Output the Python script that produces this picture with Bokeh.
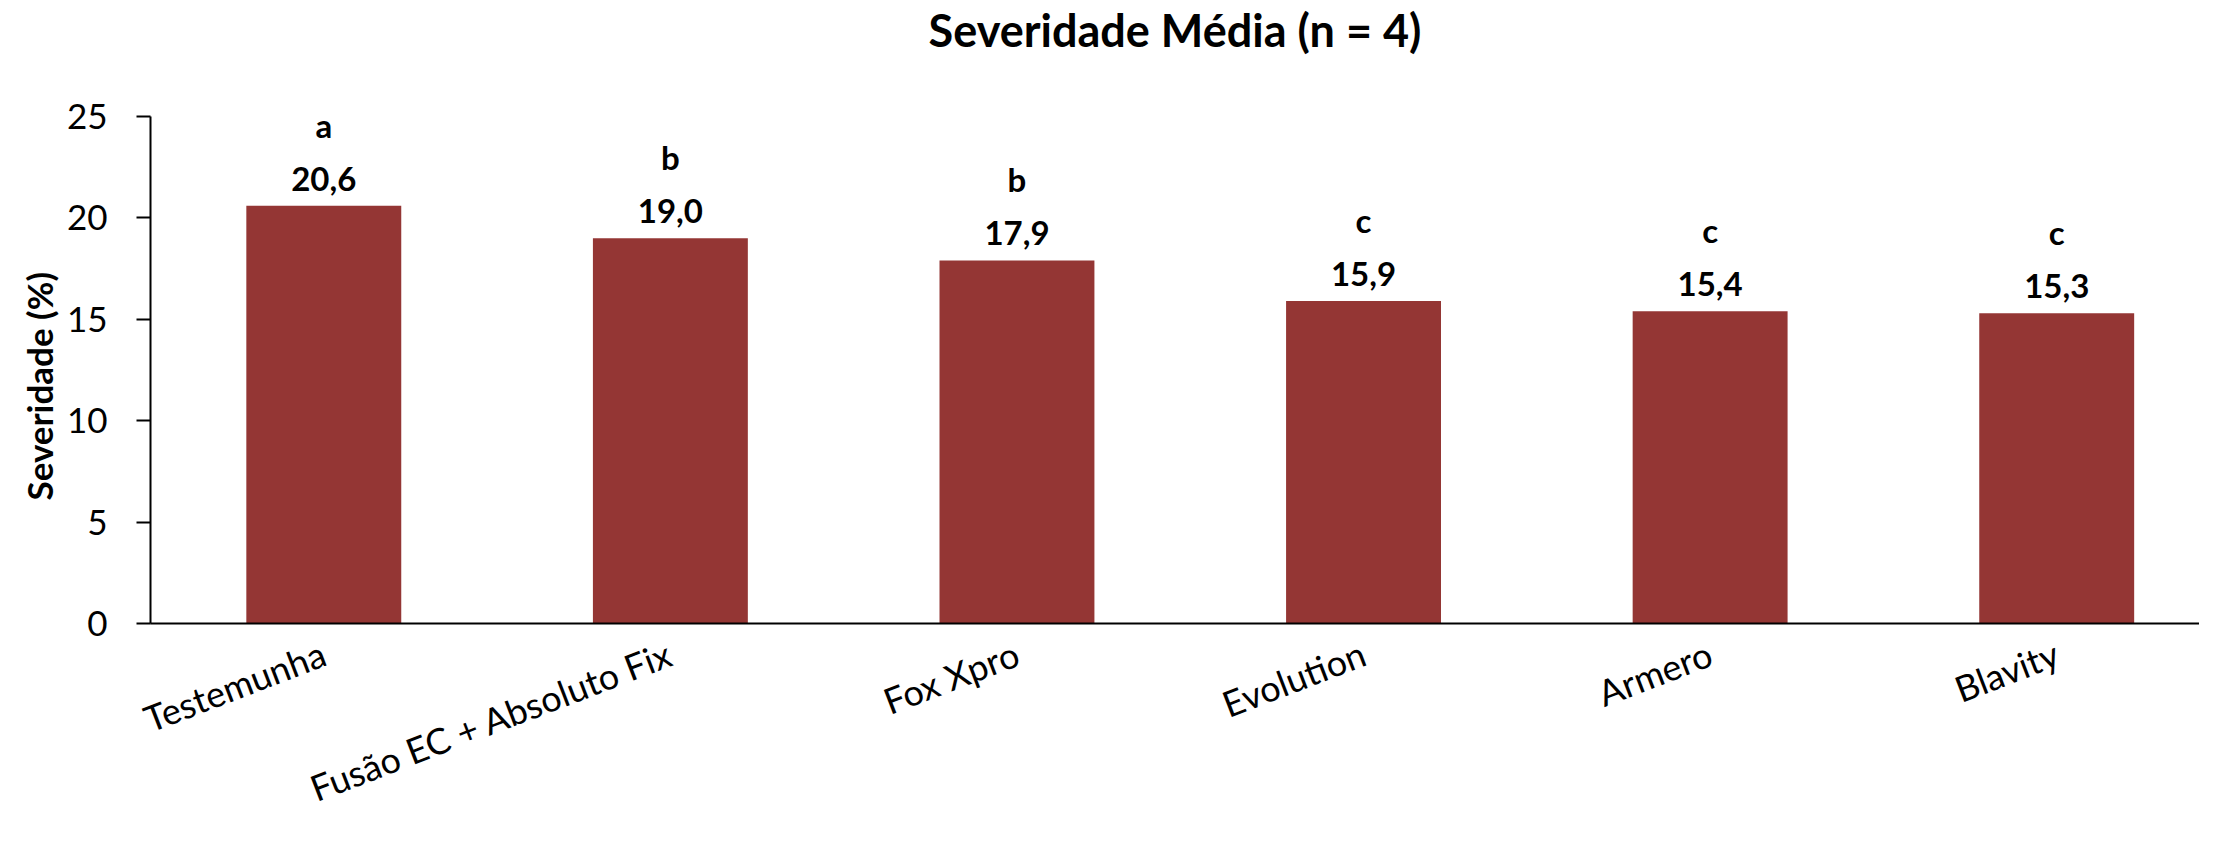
import math
from bokeh.plotting import figure
from bokeh.models import ColumnDataSource, Range1d, FixedTicker, Title
from bokeh.embed import file_html
from bokeh.resources import INLINE
from bokeh.core.properties import value

tratamentos = ["Testemunha", "Fusão EC + Absoluto Fix", "Fox Xpro", "Evolution", "Armero", "Blavity"]
severidade = [20.6, 19.0, 17.9, 15.9, 15.4, 15.3]
letras = ["a", "b", "b", "c", "c", "c"]
rotulos = [f"{v:.1f}".replace(".", ",") for v in severidade]
y_ticks = [0, 5, 10, 15, 20, 25]
titulo = "Severidade Média (n = 4)"
titulo_y = "Severidade (%)"

FONT = "Lato"
COR = "#943634"

pos = list(range(len(tratamentos)))
src = ColumnDataSource(dict(x=pos, top=severidade, letra=letras, rot=rotulos))

p = figure(
    x_range=Range1d(-0.5, 5.412),
    y_range=Range1d(0, 25),
    width=2199, height=833,
    output_backend="svg", toolbar_location=None,
    min_border_left=150, min_border_right=0, min_border_top=116, min_border_bottom=208,
    title=None,
)
p.outline_line_color = None
p.xgrid.grid_line_color = None
p.ygrid.grid_line_color = None

# spacer between frame and main title, then the title itself (outermost)
p.add_layout(Title(text=" ", text_font_size="2px", standoff=56), "above")
p.add_layout(Title(text=titulo, align="center", standoff=0, text_font=FONT,
                   text_font_size="45px", text_font_style="bold", text_color="black"), "above")

p.vbar(x="x", top="top", width=0.447, source=src, fill_color=COR, line_color=None)

p.text(x="x", y="top", text="rot", source=src, y_offset=-27,
       text_align="center", text_baseline="alphabetic",
       text_font=value(FONT), text_font_size="33px", text_font_style="bold", text_color="black")
p.text(x="x", y="top", text="letra", source=src, y_offset=-81,
       text_align="center", text_baseline="alphabetic",
       text_font=value(FONT), text_font_size="33px", text_font_style="bold", text_color="black")

# y axis
ya = p.yaxis[0]
ya.ticker = FixedTicker(ticks=y_ticks)
ya.axis_line_width = 2
ya.axis_line_color = "black"
ya.major_tick_line_width = 2
ya.major_tick_line_color = "black"
ya.major_tick_out = 14
ya.major_tick_in = 0
ya.minor_tick_line_color = None
ya.major_label_text_font = FONT
ya.major_label_text_font_size = "35px"
ya.major_label_text_color = "black"
ya.major_label_standoff = 29

ylab = Title(text=titulo_y, align="left", offset=123, standoff=8,
             text_font=FONT, text_font_size="35px", text_font_style="bold", text_color="black")
p.add_layout(ylab, "left")

# x axis
xa = p.xaxis[0]
xa.ticker = FixedTicker(ticks=pos)
xa.major_label_overrides = dict(zip(pos, tratamentos))
xa.axis_line_width = 2
xa.axis_line_color = "black"
xa.major_tick_line_color = None
xa.minor_tick_line_color = None
xa.major_label_orientation = math.radians(21)
xa.major_label_text_font = FONT
xa.major_label_text_font_size = "36px"
xa.major_label_text_color = "black"
xa.major_label_standoff = 22

open("out.html", "w").write(file_html(p, INLINE))
